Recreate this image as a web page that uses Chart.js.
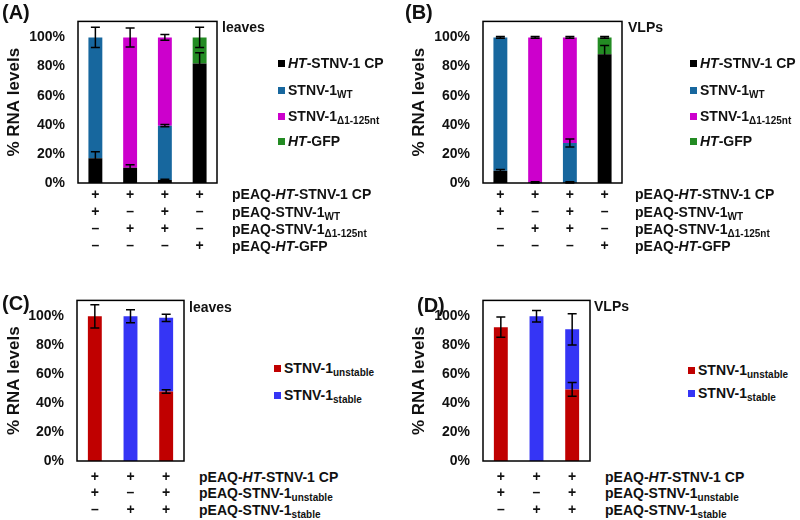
<!DOCTYPE html>
<html>
<head>
<meta charset="utf-8">
<script src="https://cdn.jsdelivr.net/npm/chart.js@4.4.1/dist/chart.umd.min.js"></script>
<style>
  body { margin:0; width:800px; height:520px; background:#fff; position:relative; overflow:hidden;
         font-family:"Liberation Sans", Arial, Helvetica, sans-serif; font-weight:bold; color:#111; }
  canvas, .abs { position:absolute; }
  .tag { font-size:20px; line-height:24px; }
  .note { font-size:14px; line-height:16px; }
  .leg { font-size:14px; line-height:16px; white-space:nowrap; }
  .leg .sw { display:inline-block; width:7px; height:7px; margin-right:3px; vertical-align:1px; }
  .rows { font-size:14px; white-space:nowrap; }
  sub { font-size:10px; vertical-align:-3px; line-height:0; }
</style>
</head>
<body>
<script>
// ── DATA ──
const Y_TICKS = [0, 20, 40, 60, 80, 100];

const CONSTRUCTS_AB = ['pEAQ-<i>HT</i>-STNV-1 CP', 'pEAQ-STNV-1<sub>WT</sub>', 'pEAQ-STNV-1<sub>Δ1-125nt</sub>', 'pEAQ-<i>HT</i>-GFP'];
const COND_AB = [
  [1, 1, 1, 1],
  [1, 0, 1, 0],
  [0, 1, 1, 0],
  [0, 0, 0, 1]
];
const CONSTRUCTS_CD = ['pEAQ-<i>HT</i>-STNV-1 CP', 'pEAQ-STNV-1<sub>unstable</sub>', 'pEAQ-STNV-1<sub>stable</sub>'];
const COND_CD = [
  [1, 1, 1],
  [1, 0, 1],
  [0, 1, 1]
];

const SERIES_AB = ['<i>HT</i>-STNV-1 CP', 'STNV-1<sub>WT</sub>', 'STNV-1<sub>Δ1-125nt</sub>', '<i>HT</i>-GFP'];
const COLORS_AB = ['#000000', '#17679e', '#cc00cc', '#238b23'];
const SERIES_CD = ['STNV-1<sub>unstable</sub>', 'STNV-1<sub>stable</sub>'];
const COLORS_CD = ['#c00000', '#3535f5'];

// (A) leaves
const A_CP  = [17, 10.5, 2, 82];
const A_WT  = [83, 0, 37.4, 0];
const A_DEL = [0, 89.5, 60.6, 0];
const A_GFP = [0, 0, 0, 18];
const A_CP_ERR  = [4.5, 2, 0.6, 7.5];
const A_WT_ERR  = [7, 0, 0.7, 0];
const A_DEL_ERR = [0, 6.5, 2, 0];
const A_GFP_ERR = [0, 0, 0, 7];

// (B) VLPs
const B_CP  = [8.5, 0.4, 0.4, 88.5];
const B_WT  = [91.5, 0, 27.1, 0];
const B_DEL = [0, 99.6, 72.5, 0];
const B_GFP = [0, 0, 0, 11.5];
const B_CP_ERR  = [0.8, 0.4, 0.4, 6];
const B_WT_ERR  = [0.6, 0, 2.7, 0];
const B_DEL_ERR = [0, 0.6, 0.6, 0];
const B_GFP_ERR = [0, 0, 0, 0.6];

// (C) leaves
const C_UNST = [100, 0, 48];
const C_STAB = [0, 100, 51];
const C_UNST_ERR = [8, 0, 1.2];
const C_STAB_ERR = [0, 4.5, 2.5];

// (D) VLPs
const D_UNST = [92.5, 0, 49.5];
const D_STAB = [0, 100, 41.5];
const D_UNST_ERR = [7, 0, 4.8];
const D_STAB_ERR = [0, 4, 10.8];

// ── HELPERS ──
const FONT = '"Liberation Sans", Arial, Helvetica, sans-serif';

function colLabels(cond) {
  return cond[0].map((_, j) => cond.map(r => r[j] ? '+' : '–'));
}

const framePlugin = {
  id: 'frame',
  afterDatasetsDraw(chart) {
    const { ctx, chartArea: a } = chart;
    const y = chart.scales.y;
    // error bars
    ctx.save();
    ctx.strokeStyle = '#000';
    ctx.lineWidth = 1.5;
    chart.data.datasets.forEach((ds, d) => {
      const meta = chart.getDatasetMeta(d);
      ds.errors.forEach((e, i) => {
        if (!e) return;
        let top = 0;
        for (let k = 0; k <= d; k++) top += chart.data.datasets[k].data[i];
        const x = meta.data[i].x;
        const hi = y.getPixelForValue(top + e), lo = y.getPixelForValue(top - e);
        ctx.beginPath();
        ctx.moveTo(x, hi); ctx.lineTo(x, lo);
        ctx.moveTo(x - 4.5, hi); ctx.lineTo(x + 4.5, hi);
        ctx.moveTo(x - 4.5, lo); ctx.lineTo(x + 4.5, lo);
        ctx.stroke();
      });
    });
    // plot frame
    ctx.lineWidth = 1.5;
    ctx.strokeRect(a.left, a.top, a.right - a.left, a.bottom - a.top);
    ctx.restore();
  }
};

function addHtml(cls, left, top, html) {
  const d = document.createElement('div');
  d.className = 'abs ' + cls;
  d.style.left = left + 'px';
  d.style.top = top + 'px';
  d.innerHTML = html;
  document.body.appendChild(d);
  return d;
}

function makePanel(p) {
  const c = document.createElement('canvas');
  c.width = p.w; c.height = p.h;
  c.style.left = p.left + 'px'; c.style.top = p.top + 'px';
  document.body.appendChild(c);

  new Chart(c.getContext('2d'), {
    type: 'bar',
    data: {
      labels: colLabels(p.cond),
      datasets: p.series.map((s, i) => ({
        label: s, data: p.values[i], errors: p.errors[i],
        backgroundColor: p.colors[i], borderWidth: 0,
        barPercentage: p.barPct, categoryPercentage: 1
      }))
    },
    options: {
      responsive: false,
      animation: false,
      layout: { padding: { top: p.padTop, right: 8, left: 0, bottom: 0 } },
      plugins: { legend: { display: false }, tooltip: { enabled: false } },
      scales: {
        x: {
          stacked: true,
          grid: { display: false, drawTicks: false },
          border: { display: false },
          ticks: { color: '#111', maxRotation: 0, autoSkip: false, padding: p.tickPad,
                   font: { family: FONT, size: 14, weight: 'bold', lineHeight: p.lineH / 14 } },
          afterFit: s => { s.height = p.xH; }
        },
        y: {
          stacked: true, min: 0, max: 111,
          grid: { display: false, drawTicks: false },
          border: { display: false },
          afterBuildTicks: s => { s.ticks = Y_TICKS.map(v => ({ value: v })); },
          ticks: { color: '#111', padding: 13, callback: v => v + '%',
                   font: { family: FONT, size: 14, weight: 'bold' } },
          title: { display: true, text: '% RNA levels', color: '#111', padding: { top: 4, bottom: 0 },
                   font: { family: FONT, size: 17, weight: 'bold' } },
          afterFit: s => { s.width = p.yW; }
        }
      }
    },
    plugins: [framePlugin]
  });

  addHtml('tag', p.tag[0], p.tag[1], p.tagText);
  addHtml('note', p.note[0], p.note[1] - 8, p.noteText);
  p.series.forEach((s, i) => {
    addHtml('leg', p.leg[0], p.legY[i] - 8, `<span class="sw" style="background:${p.colors[i]}"></span>${s}`);
  });
  addHtml('rows', p.rowsX, p.rowsY - p.lineH / 2, p.constructs.map(t => `<div style="height:${p.lineH}px;line-height:${p.lineH}px">${t}</div>`).join(''));
}

makePanel({ left: 0, top: 0, w: 225, h: 260, yW: 78, xH: 77, padTop: 17, tickPad: 3, lineH: 17.3, barPct: 0.4,
  cond: COND_AB, constructs: CONSTRUCTS_AB, series: SERIES_AB, colors: COLORS_AB,
  values: [A_CP, A_WT, A_DEL, A_GFP], errors: [A_CP_ERR, A_WT_ERR, A_DEL_ERR, A_GFP_ERR],
  tag: [2, 0], tagText: '(A)', note: [222, 27], noteText: 'leaves',
  leg: [278, 0], legY: [63, 90, 116, 141], rowsX: 232, rowsY: 195 });

makePanel({ left: 405, top: 0, w: 225, h: 260, yW: 78, xH: 77, padTop: 17, tickPad: 3, lineH: 17.3, barPct: 0.4,
  cond: COND_AB, constructs: CONSTRUCTS_AB, series: SERIES_AB, colors: COLORS_AB,
  values: [B_CP, B_WT, B_DEL, B_GFP], errors: [B_CP_ERR, B_WT_ERR, B_DEL_ERR, B_GFP_ERR],
  tag: [405, 0], tagText: '(B)', note: [628, 27], noteText: 'VLPs',
  leg: [690, 0], legY: [63, 90, 116, 141], rowsX: 635, rowsY: 195 });

makePanel({ left: 0, top: 279, w: 192, h: 241, yW: 77, xH: 59, padTop: 17, tickPad: 7.5, lineH: 16.5, barPct: 0.39,
  cond: COND_CD, constructs: CONSTRUCTS_CD, series: SERIES_CD, colors: COLORS_CD,
  values: [C_UNST, C_STAB], errors: [C_UNST_ERR, C_STAB_ERR],
  tag: [2, 291], tagText: '(C)', note: [189, 307], noteText: 'leaves',
  leg: [274, 0], legY: [368, 395], rowsX: 199, rowsY: 477 });

makePanel({ left: 405, top: 279, w: 193, h: 241, yW: 78, xH: 59, padTop: 17, tickPad: 7.5, lineH: 16.5, barPct: 0.39,
  cond: COND_CD, constructs: CONSTRUCTS_CD, series: SERIES_CD, colors: COLORS_CD,
  values: [D_UNST, D_STAB], errors: [D_UNST_ERR, D_STAB_ERR],
  tag: [417, 293], tagText: '(D)', note: [594, 306], noteText: 'VLPs',
  leg: [688, 0], legY: [370, 393], rowsX: 605, rowsY: 477 });
</script>
</body>
</html>
